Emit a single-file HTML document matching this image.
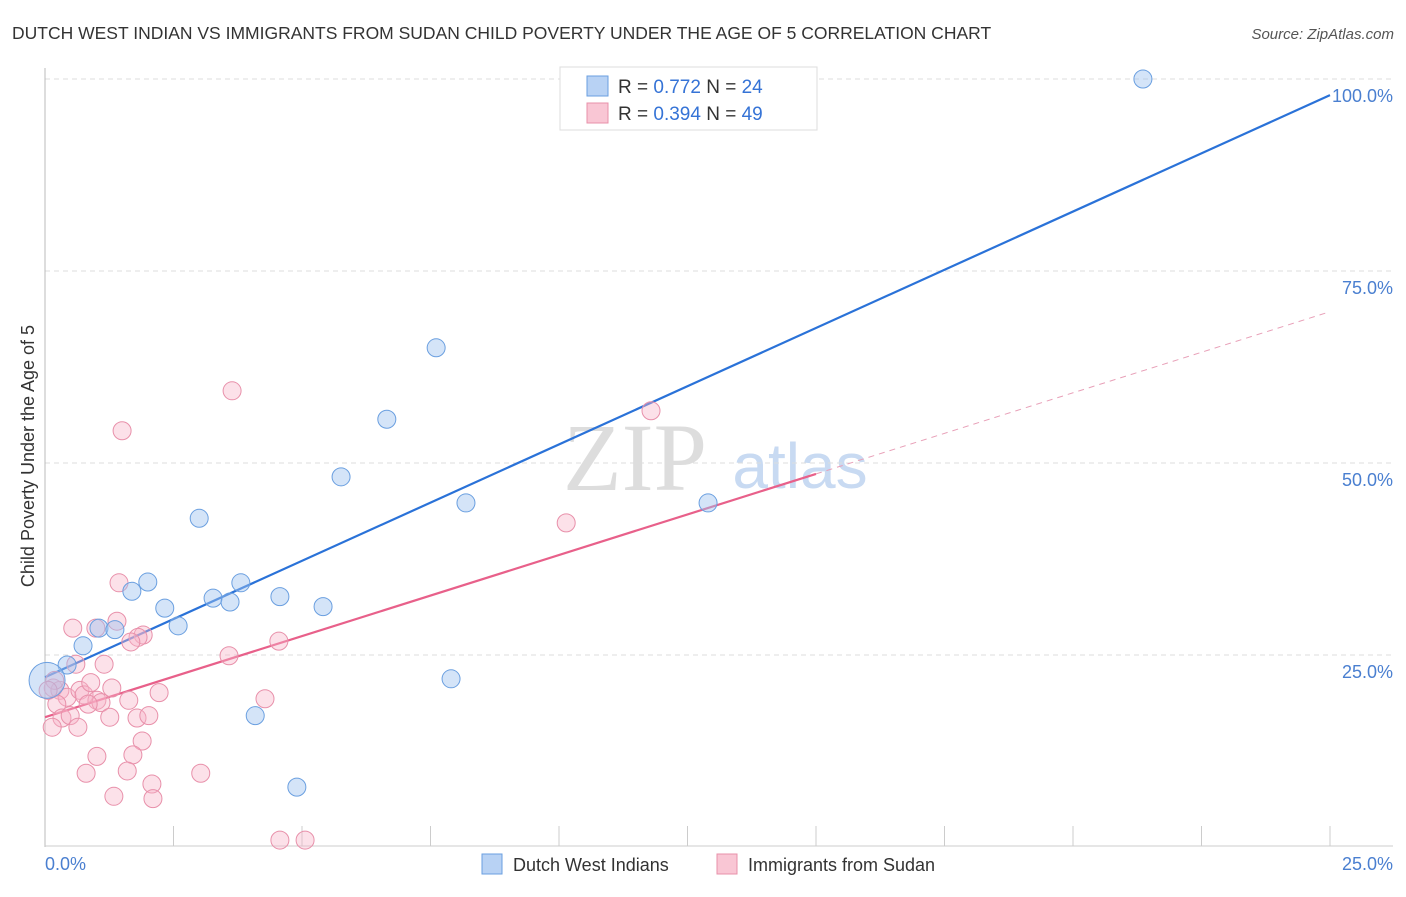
<!DOCTYPE html>
<html><head><meta charset="utf-8"><style>
body{margin:0;background:#fff;font-family:"Liberation Sans",sans-serif;}
svg text{font-family:"Liberation Sans",sans-serif;}
</style></head><body>
<svg id="chart" width="1406" height="892" xmlns="http://www.w3.org/2000/svg">
<text x="12" y="39" font-size="17.5" fill="#333">DUTCH WEST INDIAN VS IMMIGRANTS FROM SUDAN CHILD POVERTY UNDER THE AGE OF 5 CORRELATION CHART</text>
<text x="1394" y="39" font-size="15" fill="#555" text-anchor="end" font-style="italic">Source: ZipAtlas.com</text>
<text x="635" y="490" font-size="96" fill="#ddd" text-anchor="middle" font-family="Liberation Serif" style="font-family:'Liberation Serif',serif">ZIP</text>
<text x="800" y="488" font-size="64" fill="#c8daf2" text-anchor="middle">atlas</text>
<text transform="translate(34,456) rotate(-90)" font-size="18" fill="#333" text-anchor="middle">Child Poverty Under the Age of 5</text>
<g id="grid"></g><g id="axes"></g><g id="lines"></g><g id="pts"></g>
<g>
<rect x="560" y="67" width="257" height="63" fill="#fff" stroke="#ddd"/>
<rect x="587" y="76" width="21" height="20" fill="#b8d2f4" stroke="#6a9fe0"/>
<rect x="587" y="103" width="21" height="20" fill="#f9c6d4" stroke="#e890aa"/>
<text x="618" y="93" font-size="19" fill="#333">R = <tspan fill="#3573d6">0.772</tspan>   N = <tspan fill="#3573d6">24</tspan></text>
<text x="618" y="120" font-size="19" fill="#333">R = <tspan fill="#3573d6">0.394</tspan>   N = <tspan fill="#3573d6">49</tspan></text>
</g>
<g>
<rect x="482" y="854" width="20" height="20" fill="#b8d2f4" stroke="#6a9fe0"/>
<text x="513" y="871" font-size="18" fill="#333">Dutch West Indians</text>
<rect x="717" y="854" width="20" height="20" fill="#f9c6d4" stroke="#e890aa"/>
<text x="748" y="871" font-size="18" fill="#333">Immigrants from Sudan</text>
</g>
</svg>
<script>
const yTicks=[25,50,75,100];
const yTickLabels=["25.0%","50.0%","75.0%","100.0%"];
const xLabels=["0.0%","25.0%"];
const blueX=[21.36,7.61,6.65,5.76,8.19,12.90,3.00,2.00,1.69,3.81,2.33,3.27,3.60,4.57,5.41,2.59,1.05,1.36,0.74,0.43,0.04,7.90,4.09,4.90];
const blueY=[100.0,65.0,55.7,48.2,44.8,44.8,42.8,34.5,33.3,34.4,31.1,32.4,31.9,32.6,31.3,28.8,28.5,28.3,26.2,23.7,21.7,21.9,17.1,7.8];
const pinkX=[3.64,1.50,11.79,10.14,1.44,0.54,0.99,1.40,1.91,1.81,1.67,3.58,4.55,0.60,1.15,0.16,0.29,0.43,0.68,0.76,0.89,1.30,2.22,1.01,1.63,1.09,4.28,0.23,0.84,1.26,1.79,2.02,0.33,0.49,0.64,0.14,1.89,1.71,1.01,1.60,0.80,3.03,2.08,1.34,2.10,4.57,5.06,0.19,0.06];
const pinkY=[59.4,54.2,56.8,42.2,34.4,28.5,28.5,29.4,27.6,27.3,26.7,24.9,26.8,23.8,23.8,20.7,20.4,19.5,20.4,19.8,21.4,20.7,20.1,19.1,19.1,18.8,19.3,18.6,18.6,16.9,16.8,17.1,16.8,17.1,15.6,15.6,13.8,12.0,11.8,9.9,9.6,9.6,8.2,6.6,6.3,0.9,0.9,21.7,20.4];
const blueTrend=[22.1,97.9];
const pinkTrend=[16.9,69.7];
const pinkSolidEnd=15;
const NS="http://www.w3.org/2000/svg";
const X=v=>45+v/25*1285, Y=v=>847-v*7.68;
function mk(t,a,p){const e=document.createElementNS(NS,t);for(const k in a)e.setAttribute(k,a[k]);p.appendChild(e);return e;}
const grid=document.getElementById('grid'),axes=document.getElementById('axes');
yTicks.forEach((t,i)=>{
 const l=mk('line',{x1:45,x2:1393,y1:Y(t),y2:Y(t),stroke:'#ddd','stroke-dasharray':'5,4'},grid);
 
 
 const tx=mk('text',{x:1393,y:Y(t)+23,'font-size':18,fill:'#4a7fd0','text-anchor':'end'},grid);
 tx.textContent=yTickLabels[i];
 
 
});
mk('line',{x1:45,x2:45,y1:68,y2:847,stroke:'#bbb'},axes);
mk('line',{x1:45,x2:1393,y1:846,y2:846,stroke:'#ccc'},axes);
for(let i=1;i<=10;i++){mk('line',{x1:X(i*2.5),x2:X(i*2.5),y1:826,y2:846,stroke:'#ccc'},axes);}
const xl0=mk('text',{x:45,y:870,'font-size':18,fill:'#4a7fd0'},axes);xl0.textContent=xLabels[0];


const xl1=mk('text',{x:1393,y:870,'font-size':18,fill:'#4a7fd0','text-anchor':'end'},axes);xl1.textContent=xLabels[1];


const pts=document.getElementById('pts');
pinkX.forEach((x,i)=>{const c=mk('circle',{cx:X(x),cy:Y(pinkY[i]),r:9,fill:'rgba(248,180,200,0.4)',stroke:'#e890aa','stroke-width':1},pts);
 
 });
blueX.forEach((x,i)=>{const c=mk('circle',{cx:X(x),cy:Y(blueY[i]),r:(i==20?18:9),fill:'rgba(160,196,240,0.45)',stroke:'#6a9fe0','stroke-width':1},pts);
 
 });
const lines=document.getElementById('lines');
const bl=mk('line',{x1:X(0),y1:Y(blueTrend[0]),x2:X(25),y2:Y(blueTrend[1]),stroke:'#2a72d8','stroke-width':2.2},lines);


const pe=pinkTrend[0]+(pinkTrend[1]-pinkTrend[0])*pinkSolidEnd/25;
const pl=mk('line',{x1:X(0),y1:Y(pinkTrend[0]),x2:X(pinkSolidEnd),y2:Y(pe),stroke:'#e8608a','stroke-width':2.2},lines);


const pd=mk('line',{x1:X(pinkSolidEnd),y1:Y(pe),x2:X(25),y2:Y(pinkTrend[1]),stroke:'#e8a0b8','stroke-width':1,'stroke-dasharray':'6,5'},lines);


</script>
</body></html>
